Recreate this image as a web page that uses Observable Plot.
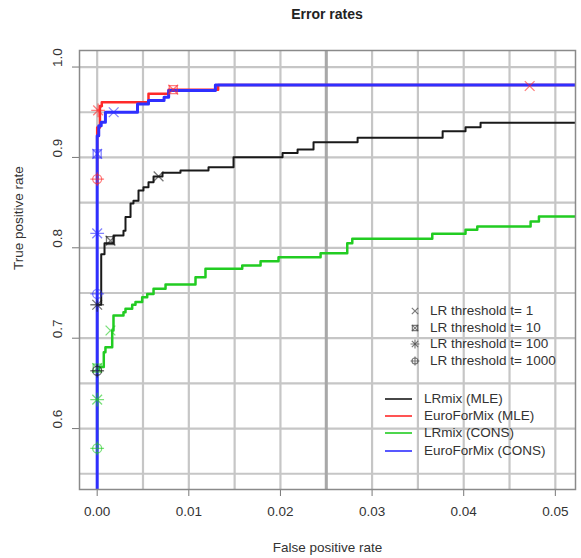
<!DOCTYPE html>
<html><head><meta charset="utf-8">
<script src="https://cdn.jsdelivr.net/npm/d3@7"></script>
<script src="https://cdn.jsdelivr.net/npm/@observablehq/plot@0.6"></script>
<style>
body{margin:0;background:#fff;font-family:"Liberation Sans",Arial,sans-serif;}
#wrap{position:relative;width:581px;height:558px;overflow:hidden;background:#fff;}
#title{position:absolute;left:79px;width:496px;top:6px;text-align:center;font-weight:bold;font-size:14px;color:#222;}
#chart{position:absolute;left:0;top:30px;}
.row{position:absolute;white-space:nowrap;font-size:13.5px;color:#333;line-height:16px;height:16px;}
.row svg{position:absolute;}
</style></head><body>
<div id="wrap"><div id="title">Error rates</div><div id="chart"></div><div id="legend"></div></div>
<script>
// ---- data ----
const seriesNames = ["LRmix (MLE)", "EuroForMix (MLE)", "LRmix (CONS)", "EuroForMix (CONS)"];
const seriesColors = ["#1a1a1a", "#ff2a2a", "#22cc22", "#2f2fff"];
const thresholdLabels = ["LR threshold t= 1", "LR threshold t= 10", "LR threshold t= 100", "LR threshold t= 1000"];

const xTicks = [0, 0.01, 0.02, 0.03, 0.04, 0.05];
const yTicks = [0.6, 0.7, 0.8, 0.9, 1.0];
const xGrid = [0, 0.005, 0.01, 0.015, 0.02, 0.025, 0.03, 0.035, 0.04, 0.045, 0.05];
const yGrid = [0.55, 0.6, 0.65, 0.7, 0.75, 0.8, 0.85, 0.9, 0.95, 1.0];

// LRmix (MLE)
const lrmixMleFpr = [0, 0, 0.00044, 0.0008, 0.00178, 0.00287, 0.00309, 0.00364, 0.00396, 0.00451, 0.00505, 0.0056, 0.00615, 0.00713, 0.00909, 0.01215, 0.01488, 0.02023, 0.02187, 0.02361, 0.02842, 0.0377, 0.0402, 0.04184, 0.06];
const lrmixMleTpr = [0.664, 0.737, 0.793, 0.805, 0.8136, 0.819, 0.834, 0.849, 0.852, 0.8634, 0.867, 0.8726, 0.879, 0.883, 0.8855, 0.8892, 0.9002, 0.905, 0.9087, 0.9168, 0.9217, 0.929, 0.9334, 0.9383, 0.9383];
// EuroForMix (MLE)
const efmMleFpr = [0, 0, 0.0003, 0.0005, 0.0056, 0.0078, 0.0132, 0.06];
const efmMleTpr = [0.87, 0.933, 0.957, 0.961, 0.9704, 0.975, 0.98, 0.98];
// LRmix (CONS)
const lrmixConsFpr = [0, 0, 0.00017, 0.00072, 0.0009, 0.00164, 0.00178, 0.00287, 0.00309, 0.00382, 0.00418, 0.00491, 0.00546, 0.00615, 0.00746, 0.01073, 0.01182, 0.01583, 0.01783, 0.01979, 0.02438, 0.02729, 0.02784, 0.03657, 0.0402, 0.04148, 0.0473, 0.04821, 0.06];
const lrmixConsTpr = [0.578, 0.665, 0.668, 0.6845, 0.69, 0.7085, 0.725, 0.7288, 0.7325, 0.737, 0.74, 0.7454, 0.749, 0.7546, 0.7594, 0.7675, 0.7768, 0.7804, 0.7852, 0.7896, 0.794, 0.805, 0.81, 0.8155, 0.82, 0.8236, 0.829, 0.8346, 0.8346];
// EuroForMix (CONS)
const efmConsFpr = [0, 0, 0.00017, 0.00044, 0.0009, 0.0044, 0.0056, 0.0073, 0.0078, 0.0129, 0.06];
const efmConsTpr = [0.5, 0.924, 0.935, 0.939, 0.95, 0.959, 0.963, 0.9666, 0.974, 0.98, 0.98];

// threshold markers (t = 1, 10, 100, 1000)
const lrmixMleMarkFpr = [0.0067, 0.00145, 0, 0];
const lrmixMleMarkTpr = [0.879, 0.808, 0.737, 0.664];
const efmMleMarkFpr = [0.0472, 0.0083, 0.0001, 0];
const efmMleMarkTpr = [0.979, 0.975, 0.952, 0.876];
const lrmixConsMarkFpr = [0.00145, 0, 0, 0];
const lrmixConsMarkTpr = [0.7085, 0.667, 0.632, 0.578];
const efmConsMarkFpr = [0.0018, 0, 0, 0];
const efmConsMarkTpr = [0.95, 0.904, 0.816, 0.749];

// ---- build tables ----
const curves = [
  [lrmixMleFpr, lrmixMleTpr], [efmMleFpr, efmMleTpr], [lrmixConsFpr, lrmixConsTpr], [efmConsFpr, efmConsTpr]
].map(([f, t], i) => f.map((x, j) => ({fpr: x, tpr: t[j], color: seriesColors[i]})));
const lineWidths = [2, 2.5, 2.5, 3];

const markSets = [
  [lrmixMleMarkFpr, lrmixMleMarkTpr], [efmMleMarkFpr, efmMleMarkTpr], [lrmixConsMarkFpr, lrmixConsMarkTpr], [efmConsMarkFpr, efmConsMarkTpr]
];
const markRows = [];
markSets.forEach(([f, t], i) => f.forEach((x, k) => markRows.push({fpr: x, tpr: t[k], k, color: seriesColors[i]})));
const symbolsByK = [["times"], ["square", "times"], ["plus", "times"], ["circle", "plus"]];

const marks = [
  Plot.ruleX(xGrid, {stroke: "#c6c6c6", strokeWidth: 2.2}),
  Plot.ruleY(yGrid, {stroke: "#c6c6c6", strokeWidth: 2.2}),
  Plot.ruleX([0.025], {stroke: "#a8a8a8", strokeWidth: 3}),
  Plot.axisX({ticks: xTicks, tickSize: 7, tickFormat: () => "", label: null, stroke: "#777"}),
  Plot.axisY({ticks: yTicks, tickSize: 7, tickFormat: () => "", label: null, stroke: "#777"}),
  Plot.text(xTicks, {x: d => d, frameAnchor: "bottom", dy: 26, text: d => d.toFixed(2), fill: "#333"}),
  Plot.text(yTicks, {y: d => d, frameAnchor: "left", dx: -22, rotate: -90, text: d => d.toFixed(1), fill: "#333"}),
  Plot.text(["False positive rate"], {frameAnchor: "bottom", dy: 62, fill: "#333"}),
  Plot.text(["True positive rate"], {frameAnchor: "left", dx: -61, rotate: -90, fill: "#333"})
];
curves.forEach((c, i) => marks.push(Plot.line(c, {x: "fpr", y: "tpr", curve: "step-after", stroke: seriesColors[i], strokeWidth: lineWidths[i], clip: true})));
symbolsByK.forEach((syms, k) => syms.forEach(sym => marks.push(
  Plot.dot(markRows.filter(d => d.k === k), {x: "fpr", y: "tpr", symbol: sym, r: 4.5, stroke: "color", fill: "none", strokeWidth: 1.3, strokeOpacity: 0.6, clip: true})
)));
marks.push(Plot.frame({stroke: "#8a8a8a", strokeWidth: 1.5}));

const chart = Plot.plot({
  width: 581, height: 528,
  marginLeft: 79, marginRight: 6, marginTop: 20, marginBottom: 69,
  x: {domain: [-0.00193, 0.0522]},
  y: {domain: [0.5326, 1.0183]},
  style: {fontFamily: "Liberation Sans, Arial, sans-serif", fontSize: "13.5px", background: "#fff", overflow: "visible"},
  marks
});
document.getElementById("chart").appendChild(chart);

// ---- legends (HTML overlay) ----
const leg = document.getElementById("legend");
const sym = (type, size) => d3.symbol(type, size)();
const legendSymbols = [[d3.symbolTimes], [d3.symbolSquare, d3.symbolTimes], [d3.symbolPlus, d3.symbolTimes], [d3.symbolCircle, d3.symbolPlus]];
thresholdLabels.forEach((lab, i) => {
  const top = 303 + i * 16.7;
  const paths = legendSymbols[i].map(t => `<path d="${sym(t, 28)}" fill="none" stroke="#444" stroke-opacity="0.7" stroke-width="1.2"/>`).join("");
  const row = document.createElement("div");
  row.className = "row";
  row.style.left = "409px"; row.style.top = top + "px";
  row.innerHTML = `<svg width="12" height="16" style="left:0;top:0"><g transform="translate(6,8)">${paths}</g></svg><span style="position:absolute;left:21px;top:0">${lab}</span>`;
  leg.appendChild(row);
});
seriesNames.forEach((name, i) => {
  const top = 391 + i * 17.2;
  const row = document.createElement("div");
  row.className = "row";
  row.style.left = "385px"; row.style.top = top + "px";
  row.innerHTML = `<svg width="28" height="16" style="left:0;top:0"><line x1="0" x2="27" y1="8" y2="8" stroke="${seriesColors[i]}" stroke-width="1.6"/></svg><span style="position:absolute;left:39px;top:0">${name}</span>`;
  leg.appendChild(row);
});
</script>
</body></html>
